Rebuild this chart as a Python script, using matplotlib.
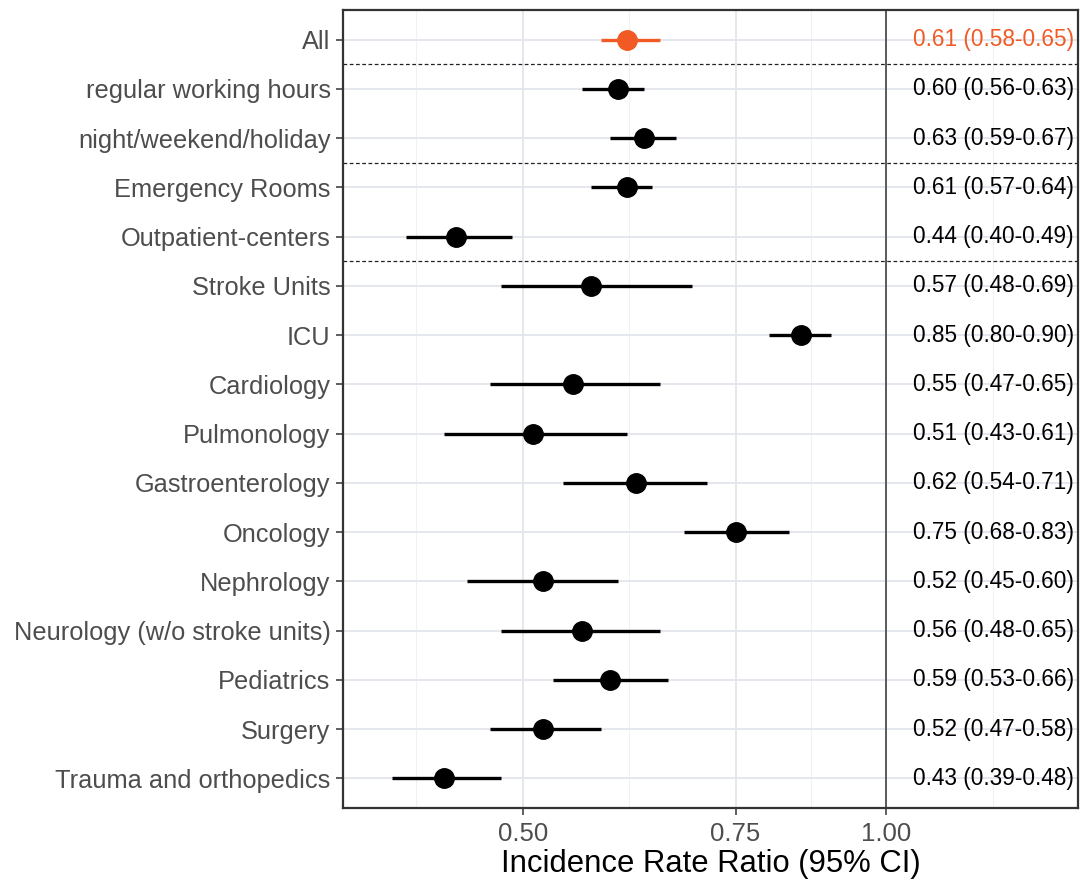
import numpy as np
import matplotlib
matplotlib.use("Agg")
import matplotlib.pyplot as plt

plt.rcParams['font.family'] = ['Liberation Sans', 'DejaVu Sans']

# data: incidence rate ratios with 95% CI
groups = [
    'All', 'regular working hours', 'night/weekend/holiday',
    'Emergency Rooms', 'Outpatient-centers', 'Stroke Units', 'ICU',
    'Cardiology', 'Pulmonology', 'Gastroenterology', 'Oncology',
    'Nephrology', 'Neurology (w/o stroke units)', 'Pediatrics',
    'Surgery', 'Trauma and orthopedics'
]
irr = [0.61, 0.60, 0.63, 0.61, 0.44, 0.57, 0.85, 0.55, 0.51, 0.62,
       0.75, 0.52, 0.56, 0.59, 0.52, 0.43]
ci_low = [0.58, 0.56, 0.59, 0.57, 0.40, 0.48, 0.80, 0.47, 0.43, 0.54,
          0.68, 0.45, 0.48, 0.53, 0.47, 0.39]
ci_high = [0.65, 0.63, 0.67, 0.64, 0.49, 0.69, 0.90, 0.65, 0.61, 0.71,
           0.83, 0.60, 0.65, 0.66, 0.58, 0.48]
highlight = ['All']
separators_after = ['All', 'night/weekend/holiday', 'Outpatient-centers']
x_breaks = [0.50, 0.75, 1.00]

orange = '#F15A24'
fig = plt.figure(figsize=(10.8, 8.85), dpi=100)
ax = fig.add_axes([0.3176, 0.087, 0.998 - 0.3176, 0.9887 - 0.087])

ax.set_xscale('log')
ax.set_xlim(0.355, 1.44)
ax.set_ylim(len(groups) - 0.4, -0.6)

ypos = np.arange(len(groups))

# grid: majors at breaks, minors at log-midpoints (ggplot style)
lb = np.log10(x_breaks)
step = lb[1] - lb[0]
ext = np.concatenate([[lb[0] - step], lb, [lb[-1] + step]])
minors = 10 ** ((ext[:-1] + ext[1:]) / 2)
for m in minors:
    ax.axvline(m, color='#EEF1F5', lw=0.8, zorder=0)
for b in x_breaks:
    ax.axvline(b, color='#E4E8EE', lw=1.4, zorder=0)
for y in ypos:
    ax.axhline(y, color='#E4E8EE', lw=1.4, zorder=0)

ax.axvline(1.0, color='#333333', lw=1.1, zorder=1)

for g in separators_after:
    i = groups.index(g)
    ax.axhline(i + 0.5, color='#222222', lw=0.9, ls=(0, (3, 2)), zorder=1)

for i, g in enumerate(groups):
    c = orange if g in highlight else 'black'
    ax.plot([ci_low[i], ci_high[i]], [i, i], color=c, lw=2.4, zorder=2,
            solid_capstyle='butt')
    ax.plot(irr[i], i, 'o', color=c, ms=14, zorder=3)
    ax.text(1.051, i, f"{irr[i]:.2f} ({ci_low[i]:.2f}-{ci_high[i]:.2f})",
            color=c, fontsize=16.3, va='center', ha='left', zorder=4)

ax.set_yticks(ypos)
ax.set_yticklabels(groups)
ax.set_xticks(x_breaks)
ax.set_xticklabels([f"{b:.2f}" for b in x_breaks])
ax.xaxis.set_minor_locator(matplotlib.ticker.NullLocator())
ax.tick_params(axis='y', which='major', labelsize=18.3, labelcolor='#4D4D4D',
               color='#333333', length=5, width=1.1, pad=4)
ax.tick_params(axis='x', which='major', labelsize=18.5, labelcolor='#4D4D4D',
               color='#333333', length=5, width=1.1, pad=5)

for s in ax.spines.values():
    s.set_color('#333333')
    s.set_linewidth(1.6)

ax.set_xlabel('Incidence Rate Ratio (95% CI)', fontsize=22.3, color='black',
              labelpad=2)

fig.savefig('out.png', dpi=100)
